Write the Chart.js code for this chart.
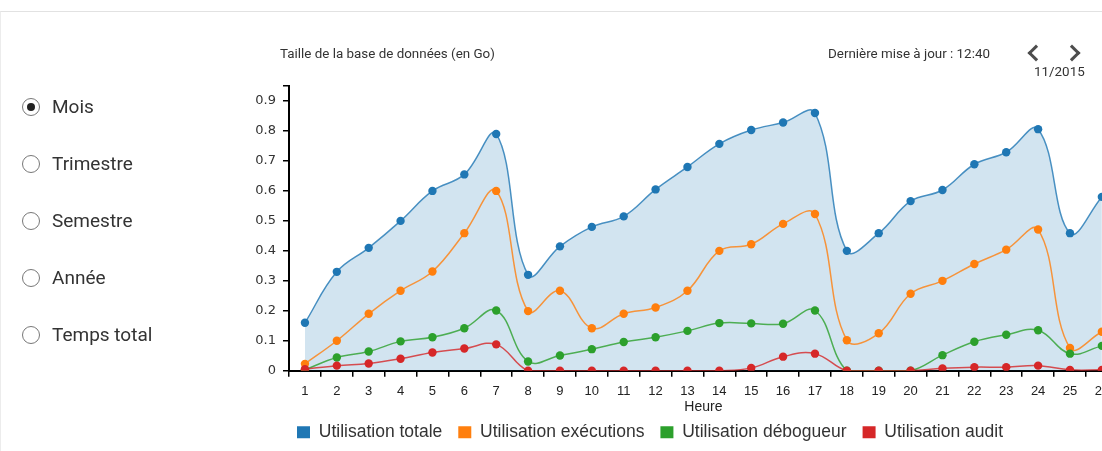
<!DOCTYPE html>
<html lang="fr">
<head>
<meta charset="utf-8">
<title>Taille de la base de données</title>
<script src="https://cdn.jsdelivr.net/npm/chart.js@4.4.0/dist/chart.umd.min.js"></script>
<style>
    html, body {
        margin: 0;
        padding: 0;
        background: #fff;
        overflow: hidden;
    }
    #page {
        position: relative;
        width: 1102px;
        height: 451px;
        overflow: hidden;
    }
    #frame {
        position: absolute;
        left: 0;
        top: 11px;
        width: 1101px;
        height: 440px;
        border-top: 1px solid #e2e2e2;
        border-left: 1px solid #ececec;
    }
    #dbChart {
        position: absolute;
        left: 0;
        top: 0;
    }
    .period {
        position: absolute;
        left: 22px;
        height: 20px;
        line-height: 20px;
        padding-left: 30px;
        font-family: Roboto, sans-serif;
        font-size: 19px;
        color: #333;
        white-space: nowrap;
    }
    .period .dot {
        position: absolute;
        left: 0;
        top: 1px;
        width: 18px;
        height: 18px;
        box-sizing: border-box;
        border: 1.5px solid #777;
        border-radius: 50%;
        background: #fff;
    }
    .period.checked .dot::after {
        content: '';
        position: absolute;
        left: 3.5px;
        top: 3.5px;
        width: 8px;
        height: 8px;
        border-radius: 50%;
        background: #222;
    }
    .header {
        position: absolute;
        font-family: Roboto, sans-serif;
        font-size: 13.4px;
        line-height: 16px;
        color: #333;
        white-space: nowrap;
    }
    .chevron {
        position: absolute;
        width: 12px;
        height: 12px;
        box-sizing: border-box;
        transform: rotate(45deg);
    }
    .chevron.prev {
        border-left: 3.5px solid #4d4d4d;
        border-bottom: 3.5px solid #4d4d4d;
    }
    .chevron.next {
        border-top: 3.5px solid #4d4d4d;
        border-right: 3.5px solid #4d4d4d;
    }
</style>
</head>
<body>
<div id="page">
    <div id="frame"></div>
    <canvas id="dbChart" width="1122" height="451" style="width:1122px;height:451px;"></canvas>

    <div class="header" style="left:280px; top:46px;">Taille de la base de données (en Go)</div>
    <div class="header" style="left:828px; top:46px;">Dernière mise à jour : 12:40</div>
    <div class="chevron prev" style="left:1030px; top:46.5px;"></div>
    <div class="chevron next" style="left:1066px; top:46.5px;"></div>
    <div class="header" style="left:1034px; top:64px;">11/2015</div>

    <div class="period checked" style="top:97px;"><span class="dot"></span>Mois</div>
    <div class="period" style="top:154px;"><span class="dot"></span>Trimestre</div>
    <div class="period" style="top:211px;"><span class="dot"></span>Semestre</div>
    <div class="period" style="top:268px;"><span class="dot"></span>Année</div>
    <div class="period" style="top:325px;"><span class="dot"></span>Temps total</div>
</div>

<script>
// Hours shown on the x axis (the chart is cut by the frame after 26)
const hours = ['1', '2', '3', '4', '5', '6', '7', '8', '9', '10', '11', '12', '13',
               '14', '15', '16', '17', '18', '19', '20', '21', '22', '23', '24', '25', '26'];

// Database size in Go
const utilisationTotale = [0.16, 0.33, 0.41, 0.50, 0.60, 0.655, 0.79, 0.32, 0.415, 0.48, 0.515, 0.605, 0.68,
                           0.757, 0.803, 0.828, 0.86, 0.40, 0.459, 0.566, 0.603, 0.689, 0.729, 0.806, 0.459, 0.58];
const utilisationExecutions = [0.023, 0.10, 0.19, 0.267, 0.331, 0.459, 0.60, 0.199, 0.267, 0.142, 0.19, 0.211, 0.267,
                               0.40, 0.422, 0.49, 0.523, 0.102, 0.125, 0.257, 0.30, 0.356, 0.404, 0.471, 0.076, 0.13];
const utilisationDebogueur = [0.003, 0.044, 0.064, 0.098, 0.112, 0.142, 0.201, 0.031, 0.051, 0.072, 0.096, 0.112, 0.133,
                              0.159, 0.158, 0.157, 0.201, 0, 0, 0, 0.052, 0.097, 0.12, 0.135, 0.057, 0.083];
const utilisationAudit = [0.005, 0.017, 0.024, 0.04, 0.061, 0.074, 0.088, 0, 0, 0, 0, 0, 0,
                          0, 0.009, 0.047, 0.057, 0, 0, 0, 0.008, 0.012, 0.012, 0.017, 0.003, 0.003];

const seriesNames = ['Utilisation totale', 'Utilisation exécutions', 'Utilisation débogueur', 'Utilisation audit'];
const seriesColors = ['#1f77b4', '#ff7f0e', '#2ca02c', '#d62728'];

// Y axis tick labels, plus the top of the axis
const yTickValues = [0, 0.1, 0.2, 0.3, 0.4, 0.5, 0.6, 0.7, 0.8, 0.9];
const yMax = 0.95;

const sansFamily = "'Liberation Sans', Arial, sans-serif";

/**
 * Turns a #rrggbb colour into an rgba() string
 */
function withAlpha(hex, alpha) {
    const r = parseInt(hex.slice(1, 3), 16);
    const g = parseInt(hex.slice(3, 5), 16);
    const b = parseInt(hex.slice(5, 7), 16);
    return `rgba(${r}, ${g}, ${b}, ${alpha})`;
}

/**
 * Builds one line dataset; order decides drawing (highest order drawn first)
 */
function lineDataset(index, values, order) {
    const color = seriesColors[index];
    return {
        label: seriesNames[index],
        data: values,
        borderColor: withAlpha(color, 0.8),
        borderWidth: 1.5,
        backgroundColor: color,
        pointBackgroundColor: color,
        pointBorderColor: color,
        pointBorderWidth: 0,
        pointRadius: 4.2,
        pointHoverRadius: 4.2,
        tension: 0.4,
        fill: false,
        clip: 0,
        order: order
    };
}

const datasets = [
    lineDataset(0, utilisationTotale, 4),
    lineDataset(1, utilisationExecutions, 3),
    lineDataset(2, utilisationDebogueur, 2),
    lineDataset(3, utilisationAudit, 1)
];

// Only the total is drawn as a filled area
datasets[0].fill = 'origin';
datasets[0].backgroundColor = withAlpha(seriesColors[0], 0.2);

// Tick marks outside the plot, no grid inside it
const axisGrid = {
    display: true,
    drawOnChartArea: false,
    drawTicks: true,
    tickLength: 6,
    color: '#000',
    lineWidth: 1.5
};
const axisBorder = { display: true, color: '#000', width: 2 };

// The legend starts under the y axis labels, not at the canvas edge
const legendShift = {
    id: 'legendShift',
    afterLayout(chart) {
        if (chart.legend) {
            chart.legend.left = 281;
        }
    }
};

const ctx = document.getElementById('dbChart').getContext('2d');
window.dbChart = new Chart(ctx, {
    type: 'line',
    data: {
        labels: hours,
        datasets: datasets
    },
    plugins: [legendShift],
    options: {
        responsive: false,
        animation: false,
        events: [],
        layout: {
            padding: { left: 240, top: 86, right: 0, bottom: 0 }
        },
        scales: {
            x: {
                type: 'category',
                offset: true,
                z: 1,
                grid: Object.assign({}, axisGrid, { offset: true }),
                border: axisBorder,
                ticks: {
                    autoSkip: false,
                    maxRotation: 0,
                    padding: 6.7,
                    color: '#222',
                    font: { family: sansFamily, size: 13 }
                },
                title: {
                    display: true,
                    text: 'Heure',
                    color: '#222',
                    font: { family: sansFamily, size: 14 },
                    padding: { top: -7.15, bottom: -7.9 }
                }
            },
            y: {
                min: 0,
                max: yMax,
                z: 1,
                afterFit: function(scale) {
                    // axis line sits at x = 289
                    scale.width = 49;
                },
                afterBuildTicks: function(scale) {
                    scale.ticks = yTickValues.concat([yMax]).map(v => ({ value: v }));
                },
                grid: axisGrid,
                border: axisBorder,
                ticks: {
                    padding: 7,
                    color: '#333',
                    font: { family: "'DejaVu Sans', Verdana, sans-serif", size: 13 },
                    callback: function(value) {
                        return value === yMax ? '' : String(value);
                    }
                }
            }
        },
        plugins: {
            legend: {
                display: true,
                position: 'bottom',
                align: 'start',
                labels: {
                    boxWidth: 13,
                    boxHeight: 12,
                    padding: 16,
                    color: '#333',
                    font: { family: sansFamily, size: 17.5 },
                    sort: (a, b) => a.datasetIndex - b.datasetIndex,
                    generateLabels: function(chart) {
                        const items = Chart.defaults.plugins.legend.labels.generateLabels(chart);
                        items.forEach(item => {
                            item.fillStyle = seriesColors[item.datasetIndex];
                            item.strokeStyle = seriesColors[item.datasetIndex];
                            item.lineWidth = 0;
                        });
                        return items;
                    }
                }
            },
            tooltip: { enabled: false }
        }
    }
});
</script>
</body>
</html>
